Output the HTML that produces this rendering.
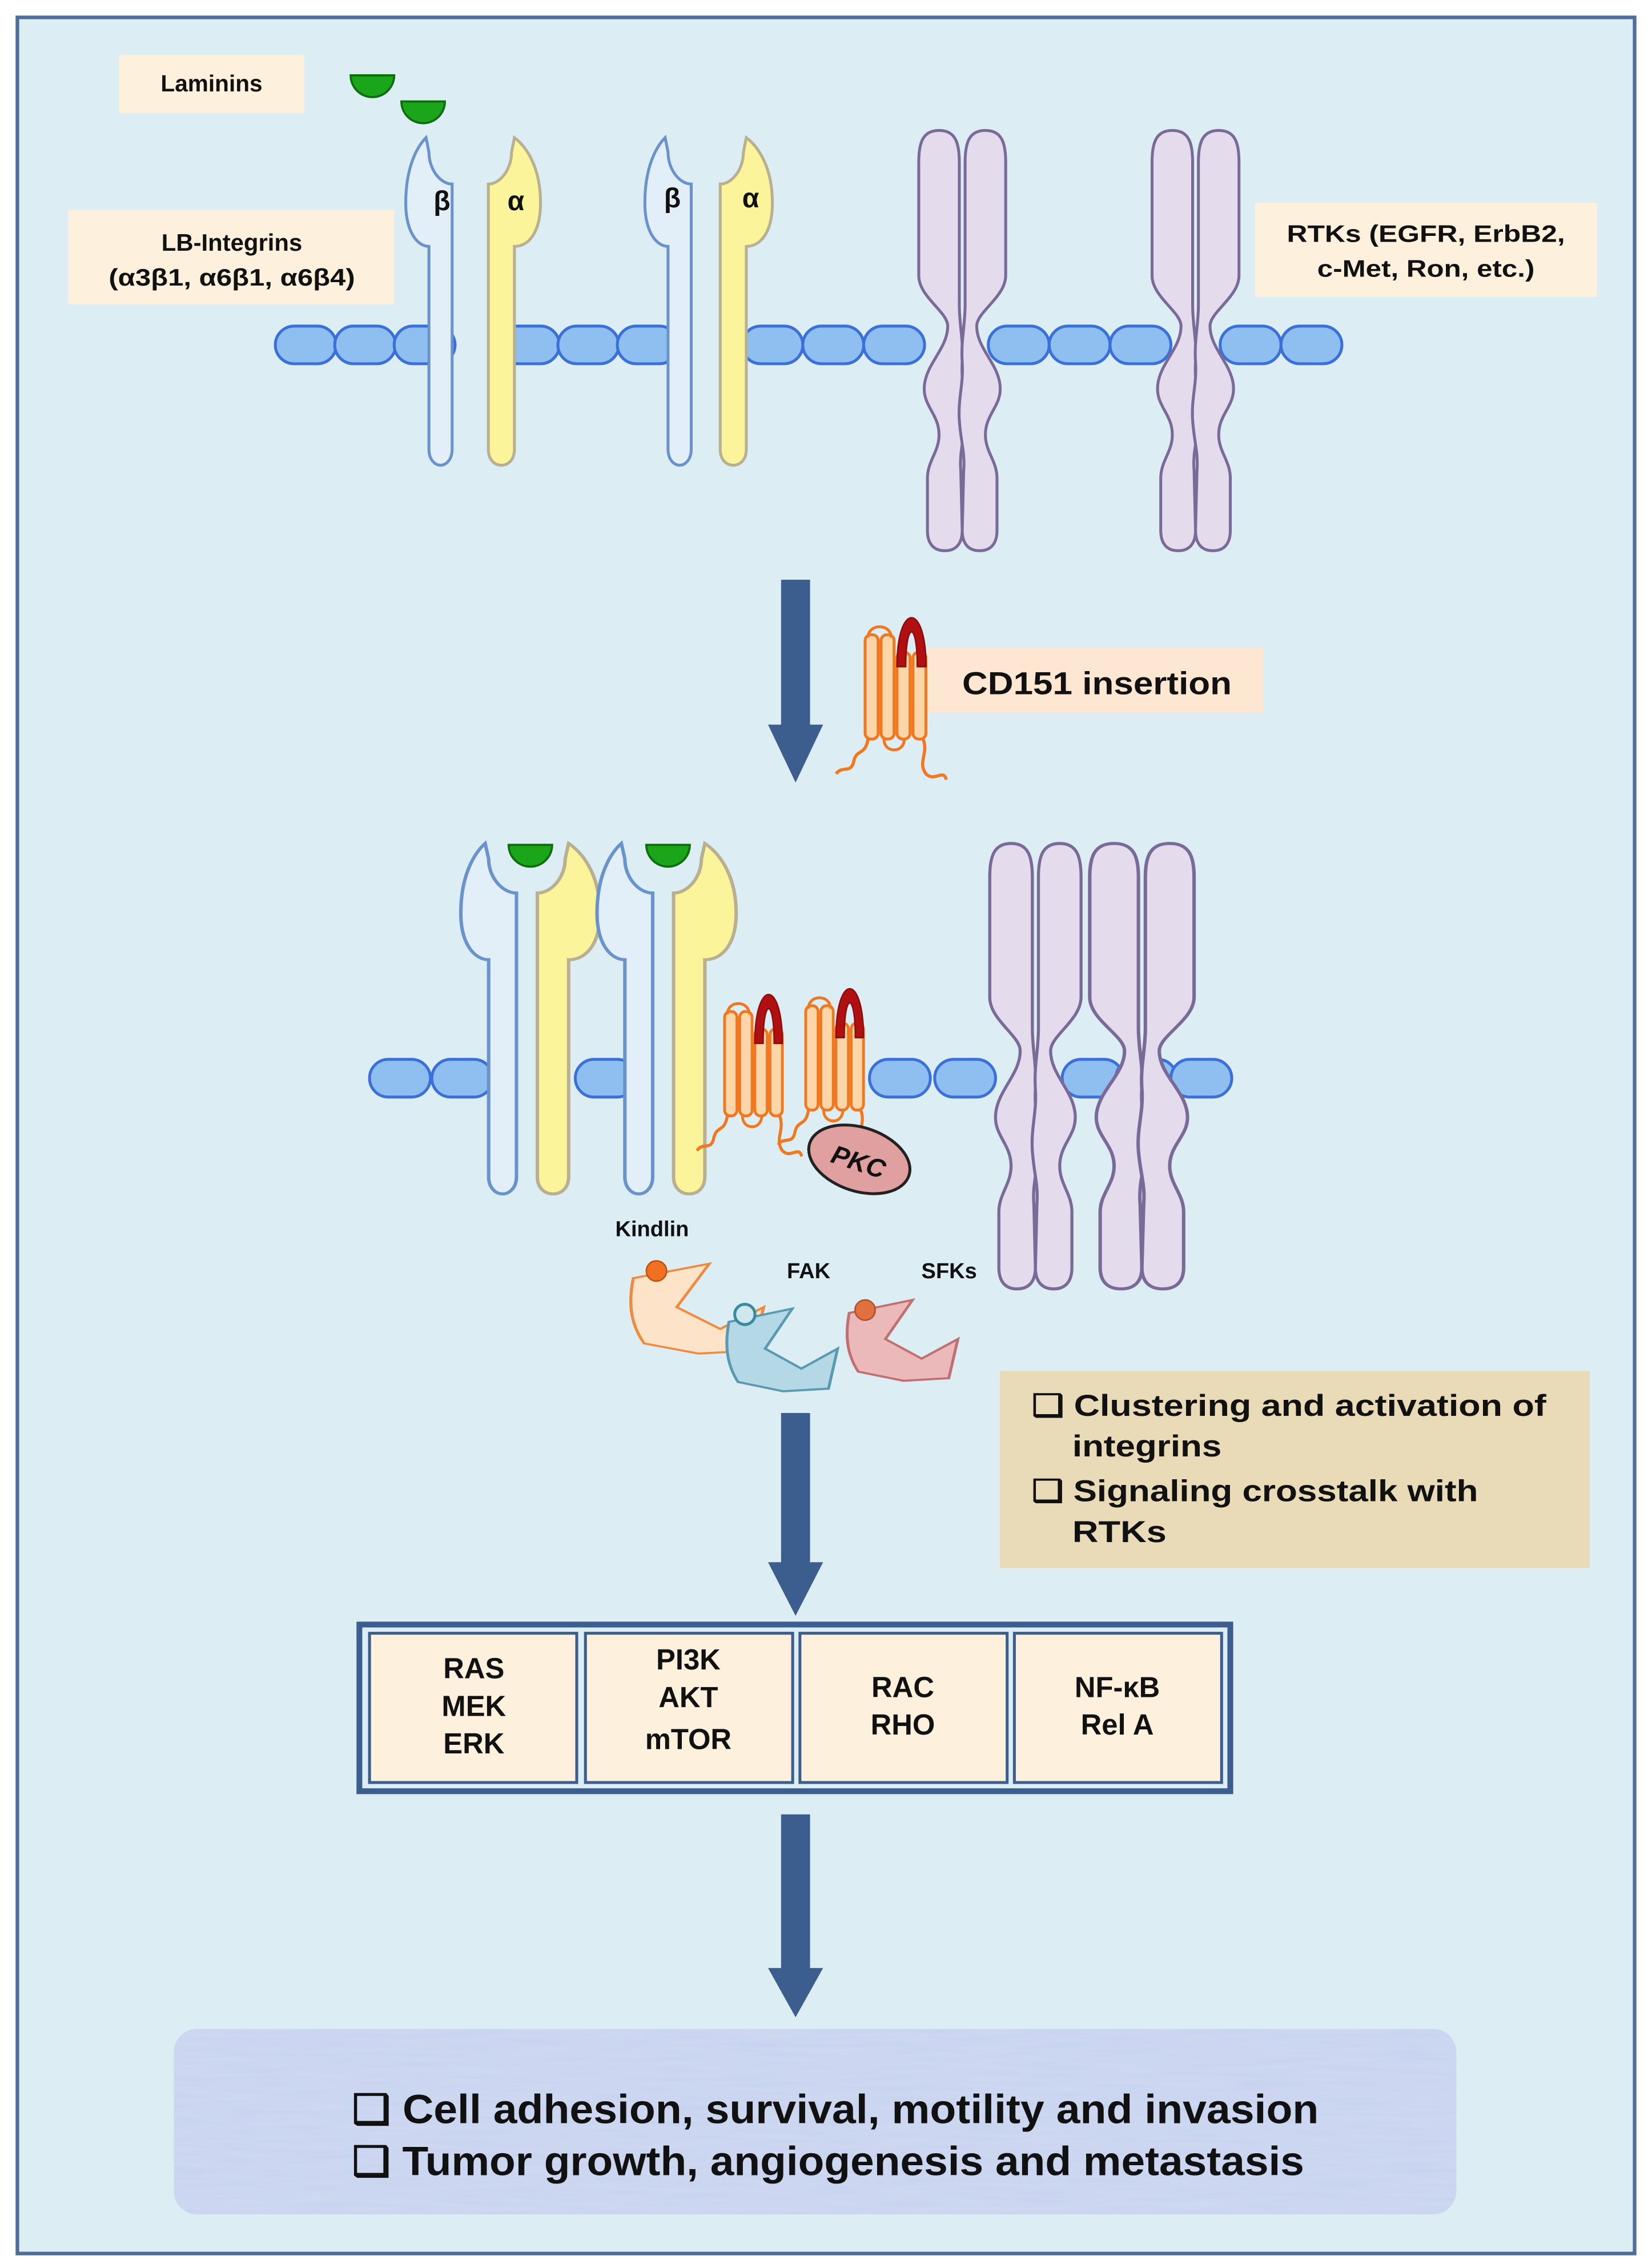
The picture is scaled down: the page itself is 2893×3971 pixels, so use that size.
<!DOCTYPE html>
<html><head><meta charset="utf-8"><style>
html,body{margin:0;padding:0;background:#fff}
svg{display:block}
text{font-family:"Liberation Sans",Arial,sans-serif;font-weight:bold;fill:#111}
</style></head><body>
<svg width="2893" height="3971" viewBox="0 0 1140 1565" preserveAspectRatio="none" xmlns="http://www.w3.org/2000/svg">
<defs>
<path id="rod" d="M14 0 C25 0 28 8 28 22 L28 120 C28 135 31 145 30 160 C29 175 33 185 32 200 C31 215 28 222 29 235 L30 276 C30 286 25 290 18 290 C11 290 6 286 6 276 L6 240 C6 228 14 222 14 210 C14 195 2 190 4 175 C6 160 20 150 20 135 C20 125 0 115 0 100 L0 22 C0 8 3 0 14 0Z"/>
<g id="rtk">
<use href="#rod" fill="#e4dcec" stroke="#7a6a98" stroke-width="2"/>
<use href="#rod" transform="translate(60,0) scale(-1,1)" fill="#e4dcec" stroke="#7a6a98" stroke-width="2"/>
</g>
<path id="beta" d="M14 0 C8 6 0 20 0 45 C0 65 8 75 16 75 L16 215 C16 222 20 226 24 226 C28 226 32 222 32 215 L32 32 C24 32 16 22 16 10 Z" fill="#e2eff8" stroke="#6a93cc" stroke-width="2"/>
<path id="alpha" d="M22 0 C30 6 40 20 40 45 C40 65 32 75 22 75 L22 215 C22 222 18 226 13 226 C8 226 4 222 4 215 L4 32 C12 32 20 22 20 10 Z" fill="#fbf49a" stroke="#b8b090" stroke-width="2"/>
<path id="lam" d="M-15 0 L15 0 A15 15 0 0 1 -15 0 Z" fill="#1aa51a" stroke="#0e6e0e" stroke-width="1.5"/>
<g id="tsp">
<rect x="0" y="8" width="9" height="72" rx="4" fill="#fcd6a8" stroke="#f07820" stroke-width="2"/>
<rect x="11" y="8" width="9" height="72" rx="4" fill="#fcd6a8" stroke="#f07820" stroke-width="2"/>
<rect x="22" y="20" width="9" height="60" rx="4" fill="#fcd6a8" stroke="#f07820" stroke-width="2"/>
<rect x="33" y="20" width="9" height="60" rx="4" fill="#fcd6a8" stroke="#f07820" stroke-width="2"/>
<path d="M2 10 C2 0 18 0 18 10" fill="none" stroke="#f07820" stroke-width="2"/>
<path d="M22 30 C22 -15 42 -15 42 30 L36 30 C36 -2 28 -2 28 30 Z" fill="#b01010" stroke="#8a0c0c" stroke-width="1"/>
<path d="M13 80 C13 90 27 90 27 80" fill="none" stroke="#f07820" stroke-width="2"/>
<path d="M2 80 C0 92 -6 86 -8 96 C-10 104 -16 98 -20 104" fill="none" stroke="#f07820" stroke-width="2.2"/>
<path d="M40 80 C44 90 36 96 42 104 C48 110 54 100 56 108" fill="none" stroke="#f07820" stroke-width="2.2"/>
</g>
<path id="pac" d="M0 10 L35 0 L20 30 L40 45 L60 30 L55 60 L30 62 L5 55 C-2 40 -2 25 0 10Z"/>
<g id="mem"><rect x="0" y="-13" width="42" height="26" rx="13" fill="#8fbff0" stroke="#3a70d8" stroke-width="2"/></g>
<filter id="tex"><feTurbulence type="fractalNoise" baseFrequency="0.02 0.3" numOctaves="2" seed="3"/><feColorMatrix values="0 0 0 0 0.78  0 0 0 0 0.78  0 0 0 0 0.95  0 0 0 0.35 0"/><feComposite in2="SourceGraphic" operator="in"/></filter>
</defs>
<rect x="0" y="0" width="1140" height="1565" fill="#ffffff"/>
<rect x="12" y="12" width="1116" height="1543" fill="#dcedf4" stroke="#4f6e9c" stroke-width="2.5"/>

<!-- TOP -->
<rect x="82" y="38" width="128" height="40" fill="#fdf0dc"/>
<text x="146" y="63" font-size="16" text-anchor="middle">Laminins</text>
<rect x="47" y="145" width="225" height="65" fill="#fdf0dc"/>
<text x="160" y="173" font-size="16.5" text-anchor="middle">LB-Integrins</text>
<text x="160" y="197" font-size="16.5" text-anchor="middle" textLength="170" lengthAdjust="spacingAndGlyphs">(α3β1, α6β1, α6β4)</text>
<rect x="866" y="140" width="236" height="65" fill="#fdf0dc"/>
<text x="984" y="167" font-size="16.5" text-anchor="middle" textLength="192" lengthAdjust="spacingAndGlyphs">RTKs (EGFR, ErbB2,</text>
<text x="984" y="191" font-size="16.5" text-anchor="middle" textLength="150" lengthAdjust="spacingAndGlyphs">c-Met, Ron, etc.)</text>
<use href="#lam" x="257" y="52"/>
<use href="#lam" x="292" y="70"/>

<g>
<use href="#mem" x="190" y="238"/><use href="#mem" x="231" y="238"/><use href="#mem" x="272" y="238"/>
<use href="#mem" x="344" y="238"/><use href="#mem" x="385" y="238"/><use href="#mem" x="426" y="238"/>
<use href="#mem" x="512" y="238"/><use href="#mem" x="554" y="238"/><use href="#mem" x="596" y="238"/>
<use href="#mem" x="682" y="238"/><use href="#mem" x="724" y="238"/><use href="#mem" x="766" y="238"/>
<use href="#mem" x="842" y="238"/><use href="#mem" x="884" y="238"/>
</g>
<use href="#beta" x="280" y="95"/>
<use href="#alpha" x="333" y="95"/>
<use href="#beta" x="445" y="95"/>
<use href="#alpha" x="493" y="95"/>
<text x="305" y="145" font-size="19" text-anchor="middle">β</text>
<text x="356" y="145" font-size="19" text-anchor="middle">α</text>
<text x="464" y="143" font-size="19" text-anchor="middle">β</text>
<text x="518" y="143" font-size="19" text-anchor="middle">α</text>
<use href="#rtk" x="634" y="90"/>
<use href="#rtk" x="795" y="90"/>

<!-- Arrow 1 -->
<path d="M539 400 H559 V500 H568 L549 540 L530 500 H539Z" fill="#3c5e8e"/>
<use href="#tsp" x="597" y="430"/>
<rect x="640" y="447" width="232" height="45" fill="#fde6d2"/>
<text x="757" y="479" font-size="22" text-anchor="middle" textLength="186" lengthAdjust="spacingAndGlyphs">CD151 insertion</text>

<!-- MIDDLE -->
<g>
<use href="#mem" x="255" y="744"/><use href="#mem" x="298" y="744"/>
<use href="#mem" x="397" y="744"/>
<use href="#mem" x="600" y="744"/><use href="#mem" x="645" y="744"/>
<use href="#mem" x="733" y="744"/><use href="#mem" x="770" y="744"/><use href="#mem" x="808" y="744"/>
</g>
<g transform="translate(318,582) scale(1.2,1.07)"><use href="#beta"/></g>
<g transform="translate(366,582) scale(1.2,1.07)"><use href="#alpha"/></g>
<g transform="translate(412,582) scale(1.2,1.07)"><use href="#beta"/></g>
<g transform="translate(460,582) scale(1.2,1.07)"><use href="#alpha"/></g>
<use href="#lam" x="366" y="583"/>
<use href="#lam" x="461" y="583"/>
<g transform="translate(683,582) scale(1.05,1.06)"><use href="#rtk"/></g>
<g transform="translate(752,582) scale(1.2,1.06)"><use href="#rtk"/></g>
<g transform="translate(500,690) scale(0.95,1)"><use href="#tsp"/></g>
<g transform="translate(556,686) scale(0.95,1)"><use href="#tsp"/></g>
<ellipse cx="593" cy="800" rx="36" ry="22" transform="rotate(18 593 800)" fill="#e1a0a0" stroke="#222" stroke-width="2"/>
<text x="593" y="808" font-size="18" text-anchor="middle" font-style="italic" transform="rotate(18 593 800)">PKC</text>

<text x="450" y="853" font-size="15" text-anchor="middle">Kindlin</text>
<text x="558" y="882" font-size="15" text-anchor="middle">FAK</text>
<text x="655" y="882" font-size="15" text-anchor="middle">SFKs</text>
<g transform="translate(437,872) scale(1.5,1)"><use href="#pac" fill="#fde3c8" stroke="#f08a40" stroke-width="1.4"/></g>
<circle cx="453" cy="877" r="7" fill="#f07020" stroke="#c05010" stroke-width="1"/>
<g transform="translate(503,903) scale(1.25,0.92)"><use href="#pac" fill="#b4d8e6" stroke="#5a9ab0" stroke-width="1.6"/></g>
<circle cx="514" cy="907" r="7" fill="#cfe8f0" stroke="#3a8aa0" stroke-width="2"/>
<g transform="translate(586,897) scale(1.25,0.9)"><use href="#pac" fill="#ebb9b9" stroke="#c07070" stroke-width="1.6"/></g>
<circle cx="597" cy="904" r="7" fill="#e07040" stroke="#b05030" stroke-width="1"/>

<!-- tan box -->
<rect x="690" y="946" width="407" height="136" fill="#e9dab8"/>
<text x="712" y="977" font-size="21" textLength="355" lengthAdjust="spacingAndGlyphs">❑ Clustering and activation of</text>
<text x="740" y="1005" font-size="21" textLength="103" lengthAdjust="spacingAndGlyphs">integrins</text>
<text x="712" y="1036" font-size="21" textLength="308" lengthAdjust="spacingAndGlyphs">❑ Signaling crosstalk with</text>
<text x="740" y="1064" font-size="21" textLength="65" lengthAdjust="spacingAndGlyphs">RTKs</text>

<!-- Arrow 2 -->
<path d="M539 975 H559 V1078 H568 L549 1115 L530 1078 H539Z" fill="#3c5e8e"/>

<!-- pathway box -->
<rect x="248" y="1121" width="601" height="115" fill="#dcedf4" stroke="#3c5e8e" stroke-width="4"/>
<rect x="255" y="1127" width="143" height="103" fill="#fdf0dc" stroke="#3c5e8e" stroke-width="2"/>
<rect x="404" y="1127" width="143" height="103" fill="#fdf0dc" stroke="#3c5e8e" stroke-width="2"/>
<rect x="552" y="1127" width="143" height="103" fill="#fdf0dc" stroke="#3c5e8e" stroke-width="2"/>
<rect x="700" y="1127" width="143" height="103" fill="#fdf0dc" stroke="#3c5e8e" stroke-width="2"/>
<g font-size="20">
<text x="327" y="1158" text-anchor="middle">RAS</text><text x="327" y="1184" text-anchor="middle">MEK</text><text x="327" y="1210" text-anchor="middle">ERK</text>
<text x="475" y="1152" text-anchor="middle">PI3K</text><text x="475" y="1178" text-anchor="middle">AKT</text><text x="475" y="1207" text-anchor="middle">mTOR</text>
<text x="623" y="1171" text-anchor="middle">RAC</text><text x="623" y="1197" text-anchor="middle">RHO</text>
<text x="771" y="1171" text-anchor="middle">NF-κB</text><text x="771" y="1197" text-anchor="middle">Rel A</text>
</g>

<!-- Arrow 3 -->
<path d="M539 1252 H559 V1358 H568 L549 1392 L530 1358 H539Z" fill="#3c5e8e"/>

<!-- bottom box -->
<rect x="120" y="1400" width="885" height="128" rx="16" fill="#c6d3ee"/>
<rect x="120" y="1400" width="885" height="128" rx="16" fill="#e8c8e8" filter="url(#tex)"/>
<text x="243" y="1465" font-size="28" textLength="667" lengthAdjust="spacingAndGlyphs">❑ Cell adhesion, survival, motility and invasion</text>
<text x="243" y="1501" font-size="28" textLength="657" lengthAdjust="spacingAndGlyphs">❑ Tumor growth, angiogenesis and metastasis</text>
</svg>
</body></html>
